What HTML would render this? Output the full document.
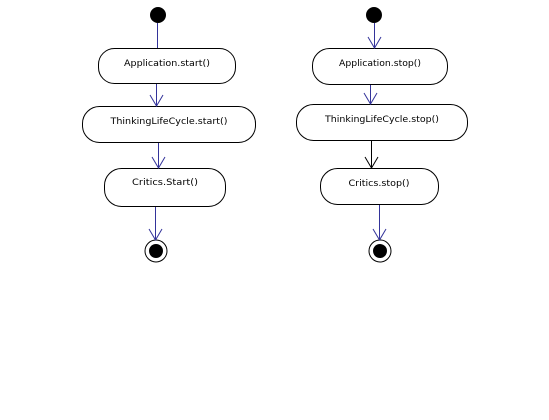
<!DOCTYPE html>
<html><head><style>html,body{margin:0;padding:0;background:#fff;}svg{display:block}</style></head>
<body>
<svg width="549" height="420" viewBox="0 0 549 420" xmlns="http://www.w3.org/2000/svg" font-family="DejaVu Sans, Liberation Sans, sans-serif" font-size="9">
<rect width="549" height="420" fill="#fff"/>
<g fill="#fff" stroke="#000" stroke-width="1">
<rect x="98.5" y="48.5" width="137" height="35" rx="16" ry="16"/>
<rect x="82.5" y="106.5" width="173" height="36" rx="17" ry="17"/>
<rect x="104.5" y="168.5" width="121" height="38" rx="17" ry="17"/>
<rect x="312.5" y="48.5" width="135" height="36" rx="17" ry="17"/>
<rect x="296.5" y="104.5" width="171" height="36" rx="17" ry="17"/>
<rect x="320.5" y="168.5" width="118" height="36" rx="17" ry="17"/>
</g>
<circle cx="158" cy="15" r="8" fill="#000"/>
<circle cx="374" cy="15" r="8" fill="#000"/>
<circle cx="156" cy="251" r="11" fill="#fff" stroke="#000"/>
<circle cx="156" cy="251" r="7" fill="#000"/>
<circle cx="380" cy="251" r="11" fill="#fff" stroke="#000"/>
<circle cx="380" cy="251" r="7" fill="#000"/>
<g stroke="#33339a" fill="none" stroke-width="1">
<path d="M157.5 23 V48"/>
<path d="M156.5 84 V106 M150 95 L156.5 106 L163 95"/>
<path d="M158.5 143 V168 M152 157 L158.5 168 L165 157"/>
<path d="M155.5 207 V240 M149 229 L155.5 240 L162 229"/>
<path d="M374.5 23 V48 M368 37 L374.5 48 L381 37"/>
<path d="M370.5 85 V104 M364 93 L370.5 104 L377 93"/>
<path d="M379.5 205 V240 M373 229 L379.5 240 L386 229"/>
</g>
<path d="M371.5 141 V168 M365 157 L371.5 168 L378 157" stroke="#000" fill="none"/>
<g text-anchor="middle" fill="#000">
<text x="167" y="66" textLength="86" lengthAdjust="spacingAndGlyphs">Application.start()</text>
<text x="169" y="124" textLength="117" lengthAdjust="spacingAndGlyphs">ThinkingLifeCycle.start()</text>
<text x="165" y="185" textLength="66" lengthAdjust="spacingAndGlyphs">Critics.Start()</text>
<text x="380" y="66" textLength="82" lengthAdjust="spacingAndGlyphs">Application.stop()</text>
<text x="382" y="122" textLength="114" lengthAdjust="spacingAndGlyphs">ThinkingLifeCycle.stop()</text>
<text x="379" y="186" textLength="61" lengthAdjust="spacingAndGlyphs">Critics.stop()</text>
</g>
</svg>
</body></html>
